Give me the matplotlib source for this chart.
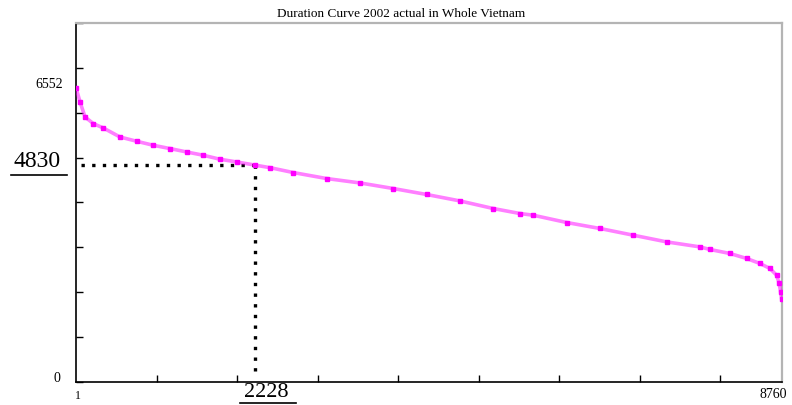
"""Load duration curve for the whole of Vietnam, 2002 actual values."""

import matplotlib.pyplot as plt
from matplotlib.lines import Line2D

plt.rcParams['font.family'] = ['Liberation Serif', 'DejaVu Serif']

# hours of the year (sorted by load) and the load in MW
hours = [1, 51, 113, 216, 340, 547, 754, 960, 1167, 1374, 1581, 1788, 1995,
         2228, 2409, 2698, 3112, 3526, 3939, 4353, 4767, 5180, 5511, 5677,
         6091, 6504, 6917, 7331, 7744, 7869, 8117, 8324, 8489, 8613, 8696,
         8729, 8746, 8760]
load = [6552, 6235, 5902, 5755, 5657, 5457, 5362, 5273, 5200, 5124, 5051,
        4962, 4902, 4830, 4775, 4666, 4533, 4435, 4311, 4178, 4035, 3866,
        3755, 3717, 3555, 3422, 3273, 3124, 3013, 2955, 2866, 2755, 2644,
        2533, 2384, 2200, 2013, 1844]

title = "Duration Curve 2002 actual in Whole Vietnam"
peak_load = 6552
mark_hour = 2228
mark_load = 4830
last_hour = 8760


def main():
    fig = plt.figure(figsize=(7.92, 4.05), dpi=100)
    ax = fig.add_axes([0.096, 0.056, 0.891, 0.888])

    # the duration curve itself
    ax.plot(hours, load, color='#ff00ff', lw=2.6, alpha=0.5, zorder=3)
    ax.plot(hours, load, ls='none', marker='s', ms=2.4, color='#ff00ff',
            mec='#ff00ff', zorder=4)

    # dotted guide lines at the marked hour / load
    ax.plot([60, mark_hour], [mark_load, mark_load], color='black',
            ls=(0, (1, 2.2)), lw=2.4, zorder=2)
    ax.plot([mark_hour, mark_hour], [mark_load, 230], color='black',
            ls=(0, (1, 2.2)), lw=2.4, zorder=2)

    ax.set_xlim(1, last_hour)
    ax.set_ylim(0, 8000)
    ax.set_xticks(range(1000, 9000, 1000))
    ax.set_yticks(range(0, 9000, 1000))
    ax.set_xticklabels([])
    ax.set_yticklabels([])
    ax.tick_params(direction='in', length=5, width=1, colors='black')

    for side in ['left', 'bottom']:
        ax.spines[side].set_linewidth(1.2)
        ax.spines[side].set_color('black')
    for side in ['top', 'right']:
        ax.spines[side].set_linewidth(1.6)
        ax.spines[side].set_color('#b4b4b4')

    # value labels
    ax.annotate("0", (0, 0), xytext=(-14, 3), textcoords='offset points',
                ha='center', va='center', fontsize=10)
    ax.annotate(str(peak_load), (0, peak_load), xytext=(-19, 2),
                textcoords='offset points', ha='center', va='center',
                fontsize=10)
    ax.annotate(str(mark_load), (0, mark_load), xytext=(-28, 3),
                textcoords='offset points', ha='center', va='center',
                fontsize=17)
    ax.annotate("1", (1, 0), xytext=(1, -10), textcoords='offset points',
                ha='center', va='center', fontsize=8.5)
    ax.annotate(str(last_hour), (last_hour, 0), xytext=(-6, -9),
                textcoords='offset points', ha='center', va='center',
                fontsize=10)
    ax.annotate(str(mark_hour), (mark_hour, 0), xytext=(8, -7),
                textcoords='offset points', ha='center', va='center',
                fontsize=16)

    # underlines below the two marked values
    fig.add_artist(Line2D([11 / 792, 67 / 792], [1 - 175 / 405, 1 - 175 / 405],
                          color='black', lw=1.2))
    fig.add_artist(Line2D([240 / 792, 296 / 792], [1 - 403 / 405, 1 - 403 / 405],
                          color='black', lw=1.2))

    fig.text(0.507, 0.965, title, ha='center', va='center', fontsize=9.5)

    fig.savefig("out.png", dpi=100)


if __name__ == "__main__":
    main()
